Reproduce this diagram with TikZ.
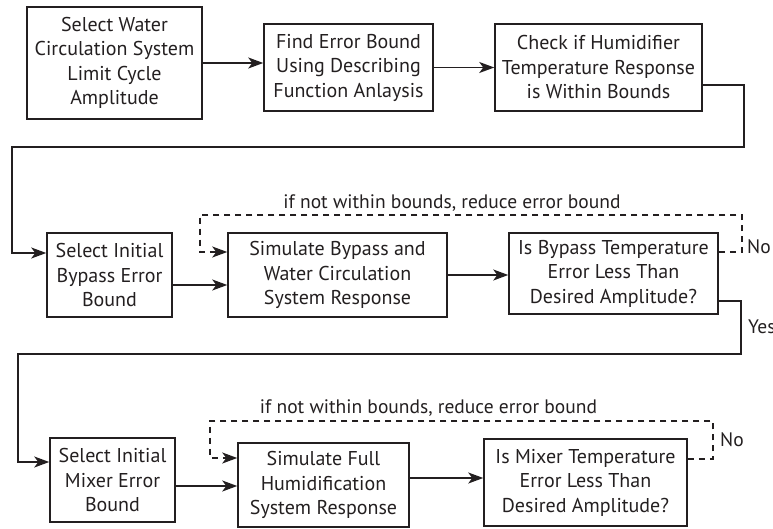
\documentclass[tikz,border=0pt]{standalone}
\usepackage{fontspec}
\setmainfont{PT Sans}
\usetikzlibrary{arrows.meta}
\definecolor{ink}{HTML}{231F20}
\tikzset{
  stepbox/.style={draw=ink, line width=1.5pt, align=center, inner sep=0pt,
    font=\fontsize{20}{24.5}\selectfont, text=ink},
  arr/.style={draw=ink, line width=1.5pt, -{Stealth[length=15pt,width=11pt,inset=4pt]}},
  loopline/.style={arr, dash pattern=on 6pt off 5pt},
  lbl/.style={font=\fontsize{19.5}{24}\selectfont, text=ink, inner sep=0pt}
}
\begin{document}
\begin{tikzpicture}[x=1pt, y=-1pt]
\useasboundingbox (0,0) rectangle (773,529);

% first row
\node[stepbox, minimum width=175pt, minimum height=112pt] (b1) at (114.5,63)
  {Select Water\\Circulation System\\Limit Cycle\\Amplitude};
\node[stepbox, minimum width=169pt, minimum height=87pt] (b2) at (348.5,67.5)
  {Find Error Bound\\Using Describing\\Function Anlaysis};
\node[stepbox, minimum width=207pt, minimum height=87pt] (b3) at (598.5,67.5)
  {Check if Humidifier\\Temperature Response\\is Within Bounds};

% second row
\node[stepbox, minimum width=125pt, minimum height=84pt] (b4) at (109.5,275)
  {Select Initial\\Bypass Error\\Bound};
\node[stepbox, minimum width=219pt, minimum height=84pt] (b5) at (337.5,275)
  {Simulate Bypass and\\Water Circulation\\System Response};
\node[stepbox, minimum width=209pt, minimum height=81pt] (b6) at (613.5,273.5)
  {Is Bypass Temperature\\Error Less Than\\Desired Amplitude?};

% third row
\node[stepbox, minimum width=125pt, minimum height=84pt] (b7) at (112.5,480)
  {Select Initial\\Mixer Error\\Bound};
\node[stepbox, minimum width=171pt, minimum height=84pt] (b8) at (323.5,485)
  {Simulate Full\\Humidification\\System Response};
\node[stepbox, minimum width=203pt, minimum height=87pt] (b9) at (585.5,482.5)
  {Is Mixer Temperature\\Error Less Than\\Desired Amplitude?};

% labels
\node[lbl] (l1) at (452,203) {if not within bounds, reduce error bound};
\node[lbl, anchor=west] (n1) at (747,247) {No};
\node[lbl, anchor=west] (y1) at (748,327) {Yes};
\node[lbl] (l2) at (428.5,408) {if not within bounds, reduce error bound};
\node[lbl, anchor=west] (n2) at (720,440) {No};

% first row connectors
\draw[arr] (b1.east) -- (b1.east -| b2.west);
\draw[arr] (b2) -- (b3);
\draw[arr] ([yshift=-17.5pt]b3.east) -- ++(41,0) |- (12,147) |- ([yshift=22pt]b4.west);

% second row connectors
\draw[arr] ([yshift=-10pt]b4.east) -- ([yshift=-10pt]b4.east -| b5.west);
\draw[arr] (b5.east) -- (b5.east -| b6.west);
\draw[loopline] ([yshift=21.5pt]b6.east) -- (742,252) |- (200,215) |- ([yshift=23pt]b5.west);
\draw[arr] ([yshift=-27.5pt]b6.east) -- (741,301) |- (18,354) |- ([yshift=18pt]b7.west);

% third row connectors
\draw[arr] ([yshift=-6pt]b7.east) -- ([yshift=-6pt]b7.east -| b8.west);
\draw[arr] ([yshift=7pt]b8.east) -- ([yshift=7pt]b8.east -| b9.west);
\draw[loopline] ([yshift=23.5pt]b9.east) -- (713,459) |- (210,421) |- ([yshift=27pt]b8.west);
\end{tikzpicture}
\end{document}
